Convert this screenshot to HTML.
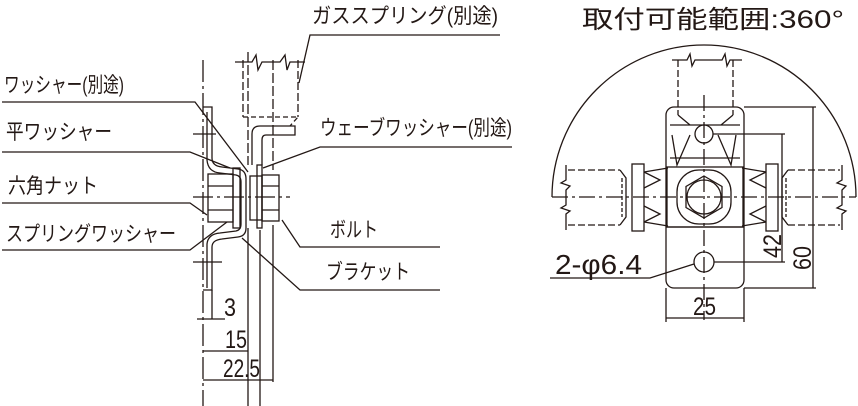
<!DOCTYPE html>
<html><head><meta charset="utf-8"><style>
html,body{margin:0;padding:0;background:#fff;}
svg{display:block;}
text{font-family:"Liberation Sans","Noto Sans CJK JP",sans-serif;fill:#231815;}
</style></head><body>
<svg width="858" height="406" viewBox="0 0 858 406" xmlns="http://www.w3.org/2000/svg" fill="none" stroke="#231815" stroke-width="1.3">
<g font-size="21" stroke="none">
<text x="4" y="92" textLength="120" lengthAdjust="spacingAndGlyphs" fill="#231815">ワッシャー(別途)</text>
<text x="6" y="139" textLength="106" lengthAdjust="spacingAndGlyphs" fill="#231815">平ワッシャー</text>
<text x="8" y="193" textLength="90" lengthAdjust="spacingAndGlyphs" fill="#231815">六角ナット</text>
<text x="6" y="241" textLength="170" lengthAdjust="spacingAndGlyphs" fill="#231815">スプリングワッシャー</text>
<text x="312" y="23" textLength="186" lengthAdjust="spacingAndGlyphs" fill="#231815">ガススプリング(別途)</text>
<text x="320" y="135" textLength="192" lengthAdjust="spacingAndGlyphs" fill="#231815">ウェーブワッシャー(別途)</text>
<text x="330" y="237" textLength="48" lengthAdjust="spacingAndGlyphs" fill="#231815">ボルト</text>
<text x="326" y="279" textLength="84" lengthAdjust="spacingAndGlyphs" fill="#231815">ブラケット</text>
</g>
<polyline points="2,102 195,102 248,172"/>
<polyline points="2,152 190,152 230,168"/>
<polyline points="2,203 190,203 207,215"/>
<polyline points="2,250 190,250 227,222"/>
<polyline points="500,35 310,35 299,83"/>
<polyline points="512,147 320,147 263,168"/>
<polyline points="440,247 300,247 282,220"/>
<polyline points="440,290 300,290 242,238"/>
<line x1="203" y1="60" x2="203" y2="406" stroke-dasharray="22,4,3,4"/>
<line x1="193" y1="197" x2="290" y2="197" stroke-dasharray="20,4,3,4"/>
<line x1="193" y1="134" x2="216" y2="134"/>
<line x1="193" y1="262" x2="222" y2="262"/>
<path d="M203,107 L212,107 L212,158 Q212,166 222,167 L238,169 Q246,170 246,179 L246,228 Q246,236 238,237 L222,239 Q212,240 212,247 L212,290 L203,290"/>
<path d="M207,112 L207,160 Q208,172 220,173 L236,175 Q241,176 241,182 L241,224 Q241,230 236,231 L220,233 Q208,234 207,244 L207,288"/>
<rect x="208" y="174" width="25" height="48"/>
<line x1="208" y1="186" x2="233" y2="186"/><line x1="208" y1="210" x2="233" y2="210"/>
<rect x="233" y="168" width="7" height="60"/>
<rect x="250" y="176" width="12" height="44"/>
<rect x="257" y="165" width="5" height="63"/>
<rect x="262" y="175" width="17" height="46"/>
<line x1="262" y1="186" x2="279" y2="186"/><line x1="262" y1="210" x2="279" y2="210"/>
<path d="M252,165 L252,134 Q252,126 260,126 L295,126 L295,135 L266,135 Q262,135 262,140 L262,165"/>
<path d="M243,117 L298,117 L290,126" stroke-dasharray="5,3"/>
<line x1="243" y1="60" x2="243" y2="117" stroke-dasharray="8,3"/>
<line x1="298" y1="60" x2="298" y2="117" stroke-dasharray="8,3"/>
<path d="M235,62 L252,62 L256,55 L258,70 L262,62 L280,62 L285,55 L287,70 L290,62 L305,62"/>
<line x1="248" y1="52" x2="248" y2="165" stroke-dasharray="10,3"/>
<line x1="248" y1="228" x2="248" y2="406"/>
<line x1="260" y1="230" x2="260" y2="406"/>
<line x1="273" y1="60" x2="273" y2="170" stroke-dasharray="10,3"/>
<line x1="273" y1="225" x2="273" y2="382"/>
<line x1="212" y1="290" x2="212" y2="319"/>
<line x1="197" y1="319" x2="225" y2="319"/>
<line x1="203" y1="351" x2="248" y2="351"/>
<line x1="203" y1="380" x2="273" y2="380"/>
<g font-size="25" stroke="none">
<text x="224" y="316" textLength="12" lengthAdjust="spacingAndGlyphs" fill="#231815">3</text>
<text x="225" y="348" textLength="22" lengthAdjust="spacingAndGlyphs" fill="#231815">15</text>
<text x="223" y="377" textLength="37" lengthAdjust="spacingAndGlyphs" fill="#231815">22.5</text>
</g>

<text x="582" y="28" font-size="25" textLength="262" lengthAdjust="spacingAndGlyphs" stroke="none" fill="#231815">取付可能範囲:360°</text>
<path d="M552,197 A152,152 0 0 1 856,197"/>
<line x1="552" y1="197" x2="856" y2="197" stroke-dasharray="16,4,3,4"/>
<line x1="704" y1="95" x2="704" y2="320" stroke-dasharray="16,4,3,4"/>
<rect x="666" y="107" width="78" height="181" rx="8"/>
<line x1="666" y1="227" x2="744" y2="227"/>
<line x1="670" y1="125" x2="740" y2="125"/>
<line x1="670" y1="158" x2="740" y2="158"/>
<line x1="678" y1="60" x2="678" y2="115" stroke-dasharray="7,3"/>
<line x1="733" y1="60" x2="733" y2="115" stroke-dasharray="7,3"/>
<path d="M672,60 L687,60 L690,54 L692,66 L695,60 L722,60 L725,54 L727,66 L730,60 L742,60"/>
<path d="M678,115 L690,125 M733,115 L721,125"/>
<path d="M672,135 L677,165 L690,135 M736,135 L731,165 L718,135"/>
<circle cx="704" cy="134" r="9"/>
<circle cx="704" cy="262" r="10"/>
<rect x="667" y="167" width="76" height="60"/>
<rect x="632" y="164" width="12" height="67"/>
<rect x="766" y="164" width="12" height="67"/>
<path d="M644,172 L668,168 M644,222 L668,226 M766,172 L742,168 M766,222 L742,226"/>
<path d="M644,172 L660,180 L644,188 M644,222 L660,214 L644,206 M766,172 L750,180 L766,188 M766,222 L750,214 L766,206"/>
<rect x="677" y="170" width="54" height="54" rx="22"/>
<polygon points="704,176 722,186.5 722,207.5 704,218 686,207.5 686,186.5"/>
<circle cx="704" cy="197" r="17"/>
<path d="M568,170 L620,170 M568,225 L620,225 M788,170 L840,170 M788,225 L840,225" stroke-dasharray="7,3"/>
<path d="M620,170 L626,178 L626,217 L620,225 M788,170 L782,178 L782,217 L788,225"/>
<path d="M622,178 L622,217 M786,178 L786,217" stroke-dasharray="4,2"/>
<path d="M566,165 L566,180 L561,183 L570,186 L566,190 L566,205 L561,208 L570,211 L566,214 L566,230"/>
<path d="M842,165 L842,180 L837,183 L846,186 L842,190 L842,205 L837,208 L846,211 L842,214 L842,230"/>
<line x1="744" y1="107" x2="816" y2="107"/>
<line x1="744" y1="288" x2="816" y2="288"/>
<line x1="813" y1="107" x2="813" y2="288"/>
<line x1="713" y1="134" x2="785" y2="134"/>
<line x1="714" y1="262" x2="785" y2="262"/>
<line x1="782" y1="134" x2="782" y2="262"/>
<line x1="666" y1="288" x2="666" y2="322"/>
<line x1="744" y1="288" x2="744" y2="322"/>
<line x1="666" y1="318" x2="744" y2="318"/>
<text x="0" y="0" font-size="25" transform="translate(781,258) rotate(-90)" textLength="24" lengthAdjust="spacingAndGlyphs" stroke="none" fill="#231815">42</text>
<text x="0" y="0" font-size="25" transform="translate(811,270) rotate(-90)" textLength="24" lengthAdjust="spacingAndGlyphs" stroke="none" fill="#231815">60</text>
<text x="693" y="315" font-size="25" textLength="23" lengthAdjust="spacingAndGlyphs" stroke="none" fill="#231815">25</text>
<text x="555" y="274" font-size="28" textLength="87" lengthAdjust="spacingAndGlyphs" stroke="none" fill="#231815">2-φ6.4</text>
<polyline points="550,278 650,278 694,264"/>
</svg>
</body></html>
